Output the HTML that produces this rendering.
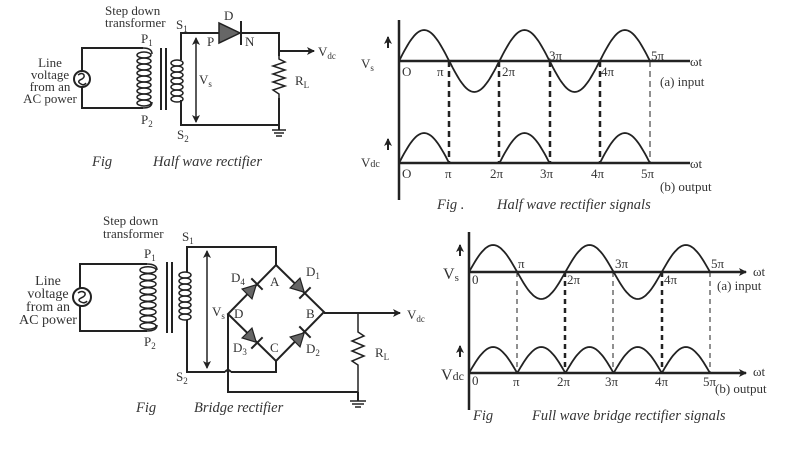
<!DOCTYPE html>
<html><head><meta charset="utf-8"><style>
html,body{margin:0;padding:0;background:#fff;width:800px;height:450px;overflow:hidden}
svg{display:block}
text{font-family:"Liberation Serif",serif;fill:#333;font-size:13px}
.it{font-style:italic;font-size:14.5px}
.sub{font-size:9px}
</style></head><body>
<svg id="s" width="800" height="450" viewBox="0 0 800 450" xmlns="http://www.w3.org/2000/svg">
<defs>
<marker id="ah" markerWidth="8" markerHeight="8" refX="7" refY="4" orient="auto" markerUnits="userSpaceOnUse"><path d="M0,0 L8,4 L0,8 L2,4 z" fill="#222"/></marker>
<marker id="ah2" markerWidth="8" markerHeight="8" refX="7" refY="4" orient="auto-start-reverse" markerUnits="userSpaceOnUse"><path d="M0,0 L8,4 L0,8 L2,4 z" fill="#222"/></marker>
</defs>
<g stroke="#222" stroke-width="2" fill="none">
<!-- ===== Half wave circuit ===== -->
<polyline points="143,48 82,48 82,108 143,108"/>
<circle cx="82" cy="79" r="8" fill="#fff"/>
<path d="M78,75 q4,-3 6,0 q1,3 -4,5 q-3,2 1,4 q3,2 5,-1" stroke-width="1.5"/>
<g stroke-width="1.5">
<ellipse cx="144" cy="55" rx="7" ry="3"/><ellipse cx="144" cy="61" rx="7" ry="3"/><ellipse cx="144" cy="67" rx="7" ry="3"/><ellipse cx="144" cy="73" rx="7" ry="3"/><ellipse cx="144" cy="79" rx="7" ry="3"/><ellipse cx="144" cy="85" rx="7" ry="3"/><ellipse cx="144" cy="91" rx="7" ry="3"/><ellipse cx="144" cy="97" rx="7" ry="3"/><ellipse cx="144" cy="103" rx="7" ry="3"/>
</g>
<path d="M143,48 q9,0 9,6 M143,108 q9,0 9,-6" stroke-width="1.5"/>
<line x1="161" y1="48" x2="161" y2="110"/><line x1="166" y1="48" x2="166" y2="110"/>
<g stroke-width="1.5">
<ellipse cx="177" cy="63" rx="6" ry="3"/><ellipse cx="177" cy="69" rx="6" ry="3"/><ellipse cx="177" cy="75" rx="6" ry="3"/><ellipse cx="177" cy="81" rx="6" ry="3"/><ellipse cx="177" cy="87" rx="6" ry="3"/><ellipse cx="177" cy="93" rx="6" ry="3"/><ellipse cx="177" cy="99" rx="6" ry="3"/>
</g>
<polyline points="181,60 181,33 219,33"/><polyline points="241,33 279,33 279,125 181,125 181,100"/>
<line x1="196" y1="38" x2="196" y2="122" marker-start="url(#ah2)" marker-end="url(#ah)" stroke-width="1.5"/>
<polygon points="219,23 219,43 240,33" fill="#666" stroke-width="1.5"/>
<line x1="241" y1="21" x2="241" y2="45"/>
<line x1="279" y1="51" x2="314" y2="51" marker-end="url(#ah)"/>
<rect x="276" y="56" width="6" height="42" fill="#fff" stroke="none"/>
<polyline points="279,56 279,59 285,62 273,66 285,70 273,74 285,78 273,82 285,86 273,90 279,94 279,98" stroke-width="1.5"/>
<line x1="279" y1="125" x2="279" y2="130"/>
<line x1="272" y1="130" x2="286" y2="130" stroke-width="1.5"/><line x1="274" y1="133" x2="284" y2="133" stroke-width="1.5"/><line x1="276" y1="136" x2="282" y2="136" stroke-width="1.5"/>

<!-- ===== Bridge circuit ===== -->
<polyline points="147,264 80,264 80,331 147,331"/>
<circle cx="82" cy="297" r="9" fill="#fff"/>
<path d="M78,293 q4,-3 7,0 q1,3 -4,5 q-4,2 0,4 q4,2 6,-1" stroke-width="1.5"/>
<g stroke-width="1.5">
<ellipse cx="148" cy="270" rx="8" ry="3.3"/><ellipse cx="148" cy="277" rx="8" ry="3.3"/><ellipse cx="148" cy="284" rx="8" ry="3.3"/><ellipse cx="148" cy="291" rx="8" ry="3.3"/><ellipse cx="148" cy="298" rx="8" ry="3.3"/><ellipse cx="148" cy="305" rx="8" ry="3.3"/><ellipse cx="148" cy="312" rx="8" ry="3.3"/><ellipse cx="148" cy="319" rx="8" ry="3.3"/><ellipse cx="148" cy="326" rx="8" ry="3.3"/>
</g>
<path d="M147,264 q10,0 10,6 M147,331 q10,0 10,-6" stroke-width="1.5"/>
<line x1="167" y1="262" x2="167" y2="333"/><line x1="172" y1="262" x2="172" y2="333"/>
<g stroke-width="1.5">
<ellipse cx="185" cy="275" rx="6" ry="3"/><ellipse cx="185" cy="281" rx="6" ry="3"/><ellipse cx="185" cy="287" rx="6" ry="3"/><ellipse cx="185" cy="293" rx="6" ry="3"/><ellipse cx="185" cy="299" rx="6" ry="3"/><ellipse cx="185" cy="305" rx="6" ry="3"/><ellipse cx="185" cy="311" rx="6" ry="3"/><ellipse cx="185" cy="317" rx="6" ry="3"/>
</g>
<polyline points="187,272 187,247 276,247 276,265"/>
<polyline points="187,320 187,372 225,372"/><path d="M225,372 q3,-4 6,0"/><polyline points="231,372 276,372 276,361"/>
<line x1="207" y1="251" x2="207" y2="368" marker-start="url(#ah2)" marker-end="url(#ah)" stroke-width="1.5"/>
<polygon points="276,265 324,312 276,361 228,314"/>
<polyline points="228,314 228,392 358,392"/>
<line x1="324" y1="313" x2="400" y2="313" marker-end="url(#ah)"/>
<polyline points="358,313 358,332 364,336 352,341 364,346 352,351 364,356 352,361 358,365 358,392" stroke-width="1.5"/>
<line x1="358" y1="392" x2="358" y2="401"/>
<line x1="350" y1="401" x2="366" y2="401" stroke-width="1.5"/><line x1="352" y1="404" x2="364" y2="404" stroke-width="1.5"/><line x1="355" y1="407" x2="361" y2="407" stroke-width="1.5"/>
<g transform="translate(252,289) rotate(-45)"><polygon points="-7,-7 -7,7 6,0" fill="#666" stroke-width="1.2"/><line x1="7" y1="-8" x2="7" y2="8"/></g>
<g transform="translate(300,288) rotate(45)"><polygon points="-7,-7 -7,7 6,0" fill="#666" stroke-width="1.2"/><line x1="7" y1="-8" x2="7" y2="8"/></g>
<g transform="translate(252,338) rotate(45)"><polygon points="-7,-7 -7,7 6,0" fill="#666" stroke-width="1.2"/><line x1="7" y1="-8" x2="7" y2="8"/></g>
<g transform="translate(300,337) rotate(-45)"><polygon points="-7,-7 -7,7 6,0" fill="#666" stroke-width="1.2"/><line x1="7" y1="-8" x2="7" y2="8"/></g>

<!-- ===== Half wave signals axes ===== -->
<line x1="399" y1="20" x2="399" y2="200" stroke-width="2.5"/>
<line x1="399" y1="61" x2="690" y2="61" stroke-width="2.5"/>
<line x1="399" y1="163" x2="690" y2="163" stroke-width="2.5"/>
<g stroke-dasharray="6,4">
<line x1="449" y1="61" x2="449" y2="163" stroke-width="2.5"/>
<line x1="499" y1="61" x2="499" y2="163" stroke-width="2.5"/>
<line x1="550" y1="61" x2="550" y2="163" stroke-width="2.5"/>
<line x1="600" y1="61" x2="600" y2="163" stroke-width="2.5"/>
<line x1="650" y1="61" x2="650" y2="163" stroke-width="1"/>
</g>
<line x1="388" y1="48" x2="388" y2="37" marker-end="url(#ah)"/>
<line x1="388" y1="150" x2="388" y2="139" marker-end="url(#ah)"/>

<!-- ===== Full wave signals axes ===== -->
<line x1="469" y1="232" x2="469" y2="410" stroke-width="2.5"/>
<line x1="469" y1="272" x2="746" y2="272" stroke-width="2.5" marker-end="url(#ah)"/>
<line x1="469" y1="373" x2="746" y2="373" stroke-width="2.5" marker-end="url(#ah)"/>
<g stroke-dasharray="5,4">
<line x1="517" y1="272" x2="517" y2="373" stroke-width="1"/>
<line x1="565" y1="272" x2="565" y2="373" stroke-width="2.5"/>
<line x1="613" y1="272" x2="613" y2="373" stroke-width="1"/>
<line x1="662" y1="272" x2="662" y2="373" stroke-width="2.5"/>
<line x1="710" y1="272" x2="710" y2="373" stroke-width="1"/>
</g>
<line x1="460" y1="256" x2="460" y2="245" marker-end="url(#ah)"/>
<line x1="460" y1="357" x2="460" y2="346" marker-end="url(#ah)"/>
<g id="waves" stroke-width="1.8"></g>
</g>

<!-- ===== Text ===== -->
<text x="105" y="15">Step down</text><text x="105" y="27">transformer</text>
<text x="176" y="29">S<tspan class="sub" dy="3">1</tspan></text>
<text x="141" y="43">P<tspan class="sub" dy="3">1</tspan></text>
<text x="141" y="124">P<tspan class="sub" dy="3">2</tspan></text>
<text x="177" y="139">S<tspan class="sub" dy="3">2</tspan></text>
<text x="224" y="20">D</text><text x="207" y="46">P</text><text x="245" y="46">N</text>
<text x="199" y="84" font-size="12">V<tspan class="sub" dy="3">s</tspan></text>
<text x="295" y="85">R<tspan class="sub" dy="3">L</tspan></text>
<text x="318" y="56">V<tspan class="sub" dy="3">dc</tspan></text>
<g text-anchor="middle"><text x="50" y="67">Line</text><text x="50" y="79">voltage</text><text x="50" y="91">from an</text><text x="50" y="103">AC power</text></g>
<text x="92" y="166" class="it">Fig</text><text x="153" y="166" class="it">Half wave rectifier</text>

<text x="103" y="225">Step down</text><text x="103" y="238">transformer</text>
<text x="182" y="241">S<tspan class="sub" dy="3">1</tspan></text>
<text x="144" y="258">P<tspan class="sub" dy="3">1</tspan></text>
<text x="144" y="346">P<tspan class="sub" dy="3">2</tspan></text>
<text x="176" y="381">S<tspan class="sub" dy="3">2</tspan></text>
<text x="212" y="316">V<tspan class="sub" dy="3">s</tspan></text>
<text x="231" y="282">D<tspan class="sub" dy="3">4</tspan></text>
<text x="270" y="286">A</text>
<text x="306" y="276">D<tspan class="sub" dy="3">1</tspan></text>
<text x="234" y="318">D</text><text x="306" y="318">B</text>
<text x="233" y="352">D<tspan class="sub" dy="3">3</tspan></text>
<text x="270" y="352">C</text>
<text x="306" y="353">D<tspan class="sub" dy="3">2</tspan></text>
<text x="375" y="357">R<tspan class="sub" dy="3">L</tspan></text>
<text x="407" y="319">V<tspan class="sub" dy="3">dc</tspan></text>
<g text-anchor="middle"><text x="48" y="285" style="font-size:14px">Line</text><text x="48" y="298" style="font-size:14px">voltage</text><text x="48" y="311" style="font-size:14px">from an</text><text x="48" y="324" style="font-size:14px">AC power</text></g>
<text x="136" y="412" class="it">Fig</text><text x="194" y="412" class="it">Bridge rectifier</text>

<text x="361" y="68" font-size="12">V<tspan class="sub" dy="3">s</tspan></text>
<text x="361" y="167" font-size="11">V<tspan font-size="10">dc</tspan></text>
<text x="402" y="76">O</text><text x="402" y="178">O</text>
<text x="437" y="76">π</text><text x="502" y="76">2π</text><text x="549" y="60">3π</text><text x="601" y="76">4π</text><text x="651" y="60">5π</text>
<text x="445" y="178">π</text><text x="490" y="178">2π</text><text x="540" y="178">3π</text><text x="591" y="178">4π</text><text x="641" y="178">5π</text>
<text x="690" y="66">ωt</text><text x="690" y="168">ωt</text>
<text x="660" y="86">(a) input</text><text x="660" y="191">(b) output</text>
<text x="437" y="209" class="it">Fig .</text><text x="497" y="209" class="it">Half wave rectifier signals</text>

<text x="443" y="279" style="font-size:16px">V<tspan style="font-size:11px" dy="2">s</tspan></text>
<text x="441" y="380" style="font-size:16px">V<tspan style="font-size:12px">dc</tspan></text>
<text x="472" y="284" font-size="11">0</text><text x="472" y="385" font-size="11">0</text>
<text x="518" y="268" font-size="12">π</text><text x="567" y="284" font-size="12">2π</text><text x="615" y="268" font-size="12">3π</text><text x="664" y="284" font-size="12">4π</text><text x="711" y="268" font-size="12">5π</text>
<text x="513" y="386" font-size="12">π</text><text x="557" y="386" font-size="12">2π</text><text x="605" y="386" font-size="12">3π</text><text x="655" y="386" font-size="12">4π</text><text x="703" y="386" font-size="12">5π</text>
<text x="753" y="276" font-size="12">ωt</text><text x="753" y="376" font-size="12">ωt</text>
<text x="717" y="290" font-size="11">(a) input</text><text x="715" y="393" font-size="11">(b) output</text>
<text x="473" y="420" class="it">Fig</text><text x="532" y="420" class="it">Full wave bridge rectifier signals</text>
</svg>
<script>
(function(){
var g=document.getElementById('waves');
function add(d){var p=document.createElementNS('http://www.w3.org/2000/svg','path');p.setAttribute('d',d);g.appendChild(p);}
function sine(x0,y0,half,amp,halves,mode){
 for(var h=0;h<halves;h++){
  if(mode==1 && h%2==1) continue;
  var d='';
  for(var i=0;i<=30;i++){
   var t=i/30, x=x0+(h+t)*half, s=Math.sin(Math.PI*t);
   var sign=(mode==0 && h%2==1)?-1:1;
   var y=y0-sign*amp*s;
   d+=(i?'L':'M')+x.toFixed(1)+','+y.toFixed(1);
  }
  add(d);
 }
}
sine(399,61,50.2,31,5,0);
sine(399,163,50.2,30,5,1);
sine(469,272,48.2,27,5,0);
sine(469,373,48.2,26,5,2);
})();
</script>
</body></html>
